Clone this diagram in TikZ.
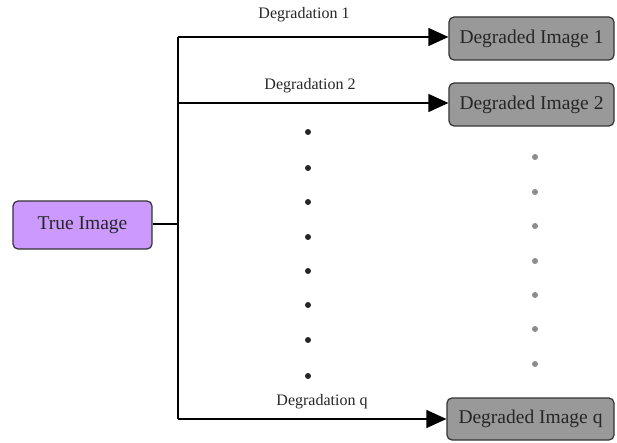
\documentclass[tikz,border=0pt]{standalone}
\usepackage{fontspec}
\setmainfont{Liberation Serif}
\usetikzlibrary{arrows.meta}
\definecolor{truefill}{HTML}{CC99FF}
\definecolor{degfill}{HTML}{999999}
\tikzset{
  x=1pt,y=-1pt,
  box/.style={draw=black!80, line width=1.2pt, rounded corners=5pt, inner sep=0pt, font=\fontsize{19.5}{21}\selectfont, text=black!85},
  conn/.style={draw=black, line width=1.2pt},
  arr/.style={conn, -{Triangle[length=20pt,width=18pt]}},
  lbl/.style={font=\fontsize{16}{18}\selectfont, text=black!85, inner sep=0pt},
  bdot/.style={circle, fill=black!85, inner sep=0pt, minimum size=6pt},
  gdot/.style={circle, fill=black!45, inner sep=0pt, minimum size=6pt},
}
\begin{document}
\begin{tikzpicture}
\useasboundingbox (0,0) rectangle (617,443);
\node[box, fill=truefill, minimum width=139pt, minimum height=48pt] (true) at (82.5,225) {True Image};
\node[box, fill=degfill, minimum width=165pt, minimum height=43pt] (d1) at (531.5,38.5) {Degraded Image 1};
\node[box, fill=degfill, minimum width=165pt, minimum height=43pt] (d2) at (531.5,104.5) {Degraded Image 2};
\node[box, fill=degfill, minimum width=167pt, minimum height=42pt] (dq) at (530.5,419) {Degraded Image q};
\coordinate (j) at (178,224);
\coordinate (j1) at (178,37);
\coordinate (j2) at (178,103);
\coordinate (jq) at (178,419);
\draw[conn] (true.east |- j) -- (j);
\draw[conn] (j1) -- (jq);
\draw[arr] (j1) -- (d1.west |- j1);
\draw[arr] (j2) -- (d2.west |- j2);
\draw[arr] (jq) -- (dq.west |- jq);
\node[lbl] (l1) at (304,15) {Degradation 1};
\node[lbl] (l2) at (310,86) {Degradation 2};
\node[lbl] (lq) at (322,402) {Degradation q};
\foreach \y [count=\i] in {132,168,202,237,271,305,340,376} {\node[bdot] (b\i) at (308,\y) {};}
\foreach \y [count=\i] in {157,192,226,261,295,329,364} {\node[gdot] (g\i) at (535,\y) {};}
\end{tikzpicture}
\end{document}
